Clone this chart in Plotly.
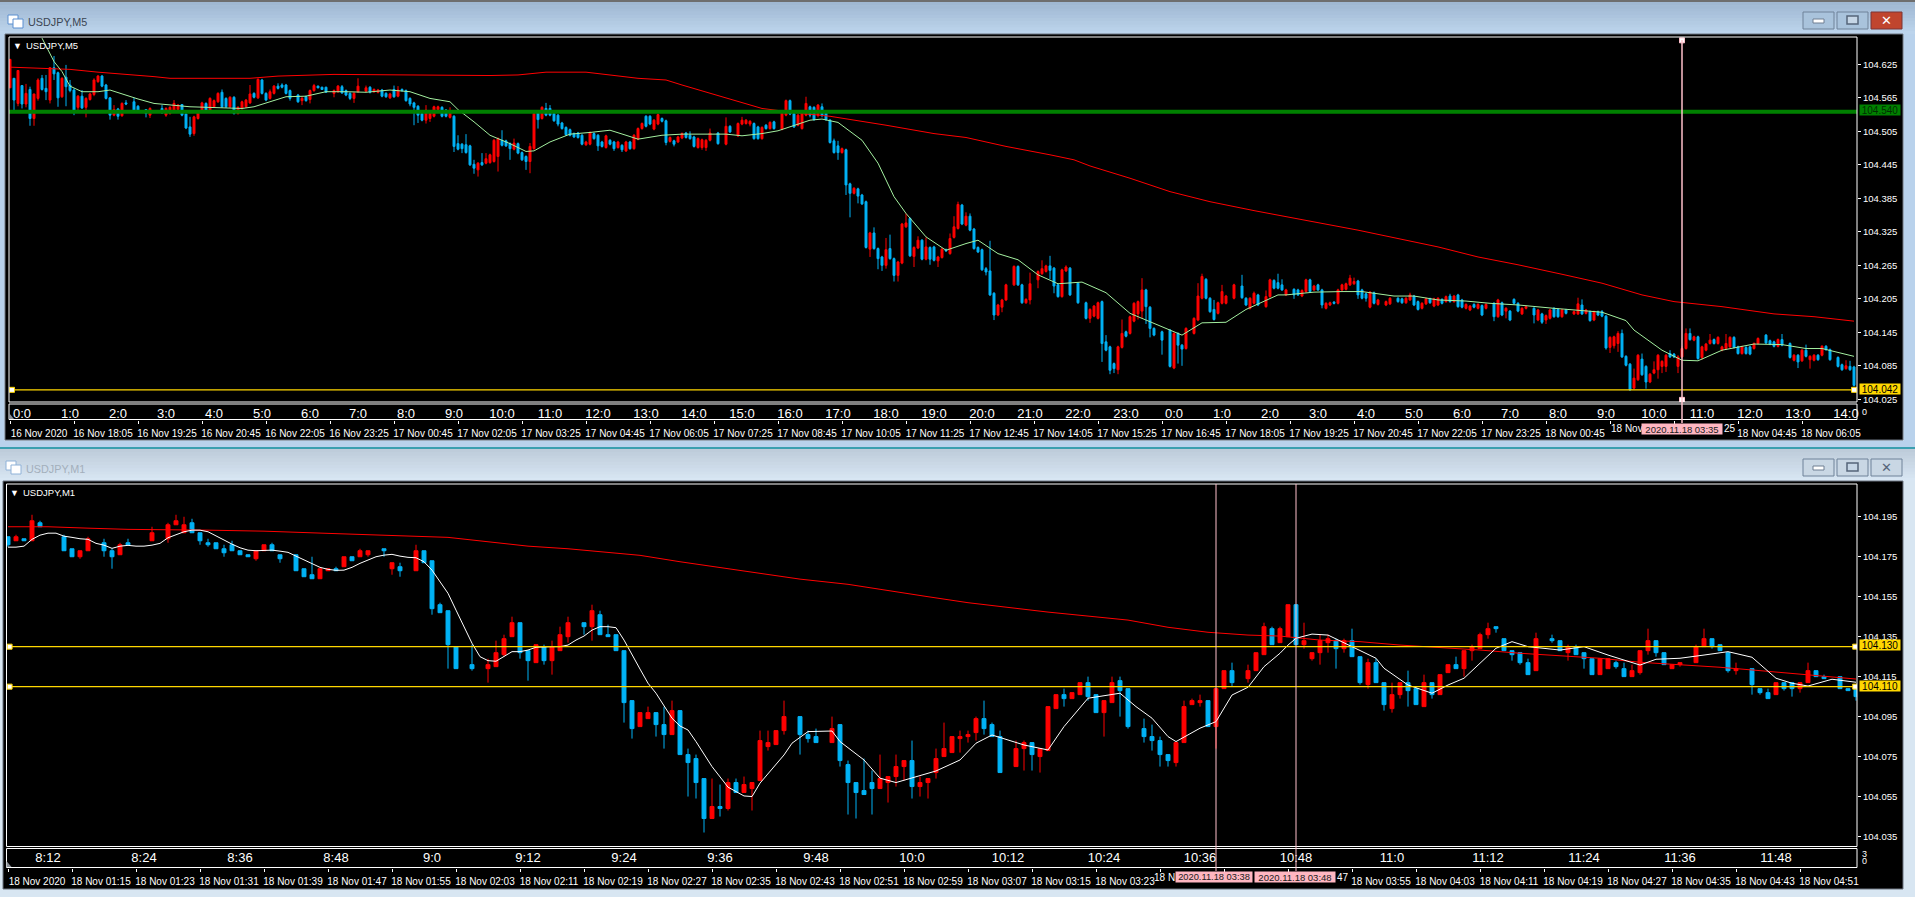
import plotly.graph_objects as go

N = None
# ---------- M5 chart: prices are 104 + value / 1000 ----------
M5_OPEN = [
583,600,555,587,554,580,528,564,600,582,
561,619,610,567,602,588,579,548,568,548,
562,571,594,604,588,565,534,545,533,556,
N,558,550,N,544,534,N,N,546,534,
537,543,544,553,536,513,501,528,540,555,
540,549,558,575,564,549,566,537,546,549,
556,573,565,597,573,564,573,586,588,588,
578,N,570,560,567,562,578,586,584,584,
N,573,576,585,578,573,564,576,N,577,
584,576,575,579,573,565,580,568,580,578,
564,556,550,537,525,528,532,544,548,543,
530,532,483,482,481,479,446,436,449,448,
449,451,460,489,488,483,473,483,467,460,
451,474,538,528,546,546,537,534,520,512,
508,501,502,498,481,482,501,498,486,476,
489,486,476,480,470,486,474,491,510,532,
532,509,518,528,524,487,488,486,493,502,
498,495,476,476,476,489,N,502,N,482,
514,N,497,518,519,518,519,513,492,516,
510,522,N,509,534,560,537,516,510,534,
549,548,534,549,540,525,488,479,467,472,
411,394,402,391,379,294,323,295,280,265,
295,277,247,269,334,349,281,296,310,276,
297,298,273,279,293,286,315,331,373,337,
353,330,297,293,259,255,215,176,190,203,
N,230,263,230,198,203,N,239,250,254,
264,260,230,209,255,260,N,233,N,198,
170,174,170,200,128,119,89,78,118,146,
143,165,178,183,221,190,152,N,146,N,
149,81,143,122,116,N,143,167,206,240,
206,186,179,197,197,N,206,N,228,206,
188,197,212,N,191,209,238,234,230,212,
N,222,221,210,218,239,221,230,221,188,
194,199,197,221,222,230,232,237,221,214,
190,216,195,N,194,196,N,206,205,198,
203,210,200,188,196,205,192,194,204,200,
210,200,212,203,188,185,195,188,193,188,
N,197,173,198,183,183,204,197,178,188,
N,188,167,178,167,170,188,186,173,185,
N,178,178,194,179,182,167,182,182,174,
118,121,125,143,102,88,45,60,97,84,
56,72,78,84,84,107,106,84,101,116,
143,131,137,100,113,125,132,125,113,116,
119,136,119,107,118,119,116,125,N,140,
130,128,120,132,N,125,95,104,94,113,
96,95,104,104,120,114,N,100,87,80,
84,83]
M5_CLOSE = [
634,561,614,554,573,528,572,597,580,576,
619,608,565,600,585,578,542,568,547,564,
572,597,604,586,564,534,544,532,555,554,
N,541,540,N,537,546,N,N,538,546,
548,555,552,534,511,500,531,540,556,540,
564,560,573,549,549,566,537,548,558,561,
572,566,598,573,561,576,586,582,584,573,
564,N,558,564,560,578,587,583,580,575,
N,578,586,574,570,564,573,586,N,583,
575,580,579,568,567,572,567,579,578,560,
554,548,534,525,543,540,549,549,532,532,
540,478,473,474,467,445,439,448,445,456,
463,489,492,480,479,474,484,466,454,451,
478,537,526,548,534,534,524,518,510,499,
498,495,494,482,486,503,492,479,478,497,
482,474,486,472,486,474,498,510,519,514,
518,525,535,523,485,494,482,495,501,494,
492,478,492,490,489,502,N,483,N,514,
504,N,519,525,525,523,492,492,512,510,
521,510,N,540,560,536,513,534,537,555,
534,526,552,534,526,485,467,467,474,409,
394,403,389,375,297,323,295,277,265,293,
277,247,271,339,341,282,297,310,276,298,
276,274,280,294,291,313,334,374,339,353,
328,295,289,257,253,212,176,194,203,230,
N,263,230,198,204,232,N,254,259,264,
256,228,209,257,262,212,N,198,N,170,
186,192,198,125,113,77,80,119,143,138,
173,197,200,221,191,152,140,N,131,N,
84,143,122,115,152,N,170,210,245,206,
182,168,198,218,210,N,230,N,207,194,
206,215,194,N,209,239,224,224,221,221,
N,212,212,220,239,218,228,221,194,197,
198,197,221,230,232,242,236,212,206,206,
217,197,203,N,200,206,N,200,198,206,
212,194,186,197,205,198,205,206,197,209,
200,210,191,190,195,192,190,195,176,195,
N,173,203,176,188,167,197,183,188,191,
N,176,185,163,175,185,173,173,185,179,
N,182,196,178,185,166,182,176,174,117,
136,137,143,101,86,42,63,104,69,56,
70,78,104,93,104,101,101,101,116,143,
132,137,98,119,124,131,125,136,119,125,
136,118,107,119,107,106,125,134,N,126,
124,120,132,122,N,100,104,92,113,102,
102,104,96,120,114,96,N,84,78,85,
78,50]
M5_HIGH = [
634,600,614,587,590,585,572,600,606,606,
619,640,612,602,624,597,582,570,579,566,
574,600,606,606,590,566,552,547,557,561,
N,565,552,N,545,548,N,N,552,548,
550,561,554,554,537,531,533,542,558,557,
566,562,575,580,566,568,568,550,560,563,
588,575,600,599,575,580,588,591,591,590,
580,N,572,568,569,580,590,587,585,585,
N,580,588,588,580,575,575,600,N,587,
586,582,581,581,575,574,587,586,582,580,
566,558,552,539,552,542,551,551,550,545,
548,534,498,484,500,481,454,450,466,466,
465,491,494,507,490,485,492,485,469,462,
484,539,540,550,556,552,539,536,522,514,
510,503,504,500,488,505,503,500,488,499,
491,488,488,482,488,488,500,512,521,534,
534,527,537,530,526,496,490,497,503,504,
505,497,494,492,491,510,N,504,N,530,
516,N,521,531,527,525,521,515,514,518,
523,524,N,542,562,562,539,536,539,567,
551,550,554,555,542,527,492,488,476,474,
413,405,404,393,381,325,333,297,282,314,
320,279,273,341,358,351,299,317,312,315,
299,300,282,296,295,322,353,379,375,360,
358,332,299,295,262,309,217,196,205,232,
N,265,265,232,206,252,N,256,274,266,
282,262,232,259,265,262,N,235,N,200,
188,194,200,202,140,121,91,121,168,148,
175,199,202,242,223,192,154,N,148,N,
151,145,145,124,154,N,172,233,250,242,
208,203,200,230,212,N,232,N,248,208,
208,218,214,N,220,241,240,250,240,223,
N,224,223,222,241,241,230,232,223,199,
200,201,223,232,234,248,243,239,223,216,
219,218,205,N,202,208,N,208,207,208,
216,212,202,199,207,207,207,208,206,211,
214,212,214,205,197,194,197,197,195,197,
N,199,205,200,190,185,206,199,190,193,
N,190,187,180,177,187,190,188,187,187,
N,184,207,204,187,184,184,184,185,176,
138,139,147,150,104,90,80,106,107,86,
72,93,106,95,106,113,108,104,120,152,
152,139,139,121,126,142,134,138,121,142,
138,138,121,121,120,121,127,136,N,142,
132,130,134,142,N,127,106,106,115,123,
104,106,106,122,122,116,N,102,89,95,
94,85]
M5_LOW = [
583,538,550,546,548,515,515,560,578,561,
555,597,549,565,550,575,534,543,545,530,
560,568,592,584,562,526,532,526,531,552,
N,539,538,N,530,529,N,N,537,531,
535,541,542,532,509,495,497,526,538,538,
538,547,556,547,547,547,535,535,544,547,
554,564,563,571,559,562,571,580,582,571,
560,N,556,552,558,555,576,582,579,574,
N,566,574,572,568,561,556,574,N,575,
573,574,573,566,565,563,565,566,576,558,
550,516,520,523,519,522,530,542,530,530,
528,468,471,466,465,443,429,424,443,446,
447,449,433,478,477,454,471,464,452,436,
430,472,510,526,532,532,522,514,508,497,
496,493,492,480,479,480,490,470,476,474,
480,470,474,468,468,472,472,489,508,512,
516,507,516,521,480,485,478,484,491,492,
490,476,474,472,470,487,N,481,N,480,
502,N,495,516,517,514,490,490,490,508,
508,508,N,507,532,534,511,514,508,532,
530,524,530,530,524,483,465,454,465,391,
351,392,376,373,295,280,293,258,255,259,
275,236,236,267,332,280,262,294,274,274,
266,272,262,277,289,284,313,329,337,335,
326,293,287,255,247,210,167,174,181,201,
N,228,228,196,196,195,N,224,248,252,
240,215,207,207,253,210,N,196,N,168,
162,172,168,92,111,70,72,70,116,136,
141,163,168,170,160,136,138,N,105,N,
82,79,89,85,114,N,141,165,204,204,
180,166,177,195,195,N,204,N,205,192,
186,195,192,N,189,207,222,222,219,210,
N,205,210,208,216,216,219,219,188,186,
192,195,195,219,220,228,230,205,204,200,
188,195,193,N,192,194,N,198,196,196,
201,192,184,186,194,196,190,192,195,198,
198,198,189,188,186,183,188,186,174,186,
N,165,171,174,170,165,195,181,176,186,
N,161,165,160,160,168,171,171,171,177,
N,176,176,176,177,164,165,174,172,114,
108,116,110,99,84,40,43,58,67,44,
54,70,62,72,74,99,99,72,99,114,
130,129,96,96,111,123,123,123,111,114,
117,116,105,105,105,104,114,123,N,124,
122,118,118,120,N,98,93,81,92,100,
80,93,94,102,112,94,N,82,76,78,
76,48]
M5_FAST_BAR = [8,11,13,15,18,22,25,28,32,36,41,45,58,61,65,69,74,79,84,89,95,100,105,110,112,116,120,125,129,131,135,140,145,150,154,157,
163,168,174,179,183,188,192,196,200,203,207,213,217,221,224,229,234,239,242,247,252,257,262,268,274,280,285,290,293,298,304,309,314,317,
319,326,333,338,346,351,357,364,370,377,386,392,398,404,406,413,418,422,428,436,443,449,453,461]
M5_FAST = [672,630,612,586,576,576,579,572,563,555,552,549,546,549,558,567,568,576,576,575,579,576,564,558,544,522,498,483,469,470,486,500,503,507,498,491,
498,500,500,500,497,501,506,516,525,527,521,489,448,388,358,316,292,304,310,286,275,248,232,235,216,179,164,149,140,162,163,186,203,212,
212,217,218,218,210,210,203,201,197,194,188,185,181,166,149,113,95,94,113,124,123,116,116,102]
M5_SLOW_BAR = [0,8,15,22,28,36,40,49,60,67,81,100,120,127,134,144,151,157,164,168,178,188,198,205,219,231,239,249,260,266,270,280,290,300,311,317,326,337,347,357,367,377,388,398,408,416,428,441,451,461]
M5_SLOW = [620,618,616,611,608,603,600,600,600,604,607,606,605,606,611,611,605,600,597,588,567,546,537,532,516,501,494,478,463,454,443,421,397,379,363,355,343,328,313,298,280,266,249,233,212,200,191,178,173,165]
M5_RESIST = 540
M5_SUPPORT = 42
M5_CURSOR_BAR = 418
M5_HOURS = ["0:0","1:0","2:0","3:0","4:0","5:0","6:0","7:0","8:0","9:0","10:0","11:0","12:0","13:0","14:0","15:0","16:0","17:0","18:0","19:0","20:0","21:0","22:0","23:0","0:0","1:0","2:0","3:0","4:0","5:0","6:0","7:0","8:0","9:0","10:0","11:0","12:0","13:0","14:0"]
M5_DATES = ["16 Nov 2020","16 Nov 18:05","16 Nov 19:25","16 Nov 20:45","16 Nov 22:05","16 Nov 23:25","17 Nov 00:45","17 Nov 02:05","17 Nov 03:25","17 Nov 04:45","17 Nov 06:05","17 Nov 07:25","17 Nov 08:45","17 Nov 10:05","17 Nov 11:25","17 Nov 12:45","17 Nov 14:05","17 Nov 15:25","17 Nov 16:45","17 Nov 18:05","17 Nov 19:25","17 Nov 20:45","17 Nov 22:05","17 Nov 23:25","18 Nov 00:45","","","18 Nov 04:45","18 Nov 06:05"]
M5_PRICE_TICKS = ["104.625","104.565","104.505","104.445","104.385","104.325","104.265","104.205","104.145","104.085","104.025"]

# ---------- M1 chart ----------
M1_OPEN = [
185,183,184,183,192,N,N,185,179,175,
178,N,182,178,176,182,N,N,183,N,
184,191,187,192,187,182,182,179,181,178,
176,174,178,181,176,N,176,169,166,164,
168,169,170,175,175,176,N,179,169,170,
N,168,178,173,151,148,130,N,121,N,
119,120,126,135,142,128,122,130,123,128,
135,N,142,140,146,136,136,128,103,90,
94,97,91,86,98,76,74,64,44,50,
49,62,57,59,63,80,81,88,N,95,
86,85,N,82,91,71,62,58,62,59,
62,65,70,73,60,62,67,75,77,84,
85,87,94,91,85,N,70,79,82,75,
78,99,106,104,106,112,106,97,102,113,
109,N,89,85,83,76,72,82,101,102,
103,90,109,118,N,114,118,126,139,132,
135,151,131,124,127,132,133,129,133,125,
111,122,112,99,106,112,109,100,112,106,
117,121,119,128,129,136,140,134,128,127,
122,118,N,134,133,127,130,127,124,116,
119,122,119,115,117,128,133,127,119,121,
N,122,130,134,131,127,118,N,119,109,
107,106,112,112,109,112,118,115,N,115,
109,110]
M1_CLOSE = [
181,185,183,193,190,N,N,178,175,178,
184,N,178,175,181,181,N,N,187,N,
191,193,191,187,183,181,179,177,178,176,
175,178,181,178,174,N,168,165,164,169,
169,168,175,173,178,178,N,178,172,168,
N,178,172,149,147,131,119,N,119,N,
121,127,134,142,127,123,131,123,130,136,
142,N,140,148,136,135,128,102,89,97,
97,91,86,98,76,72,62,44,50,49,
62,57,61,62,83,82,88,95,N,86,
84,82,N,89,73,62,57,56,59,64,
65,70,73,60,62,64,74,79,85,85,
86,94,89,85,67,N,79,82,76,79,
100,106,104,107,112,105,97,103,112,108,
90,N,85,83,76,73,82,100,103,103,
90,109,118,112,N,118,127,140,131,139,
151,131,133,127,133,134,129,133,125,112,
122,112,101,106,112,108,101,112,106,116,
121,119,128,130,136,139,139,128,126,122,
116,134,N,133,128,130,126,124,116,124,
124,120,115,118,128,133,127,121,121,122,
N,130,134,130,128,118,119,N,111,107,
104,112,109,109,112,118,115,114,N,109,
108,105]
M1_HIGH = [
185,186,184,196,193,N,N,186,179,178,
185,N,184,179,182,184,N,N,190,N,
192,196,195,194,187,184,182,181,183,178,
176,178,181,182,176,N,176,169,175,169,
169,170,175,175,179,178,N,179,172,172,
N,181,178,173,152,148,130,N,131,N,
124,133,136,145,142,128,131,131,133,140,
145,N,142,151,148,141,136,128,103,97,
100,97,100,103,98,79,76,64,64,61,
64,64,65,62,88,88,88,103,N,95,
88,89,N,95,91,73,62,74,68,76,
65,76,73,83,65,64,79,92,85,88,
88,95,103,92,88,N,83,83,82,79,
100,106,109,107,112,115,106,103,115,115,
109,N,94,91,85,76,82,103,104,106,
103,109,118,122,N,121,127,142,140,140,
151,151,142,127,136,136,134,134,139,125,
124,124,112,112,112,118,110,116,112,116,
121,125,128,131,137,142,140,134,128,127,
124,137,N,136,133,131,131,127,124,124,
124,123,122,121,128,139,133,127,121,122,
N,131,139,134,131,127,122,N,119,109,
109,112,112,112,112,122,118,116,N,115,
109,110]
M1_LOW = [
180,183,183,183,190,N,N,178,175,174,
178,N,175,169,176,181,N,N,183,N,
182,191,187,187,181,180,179,175,178,176,
175,173,178,178,172,N,168,165,164,164,
168,168,170,173,175,175,N,175,166,165,
N,168,172,146,147,119,119,N,118,N,
112,120,125,135,124,113,122,121,116,128,
132,N,136,133,136,135,128,92,84,90,
94,85,79,86,76,55,54,37,44,45,
48,57,57,48,63,78,81,86,N,76,
82,82,N,82,70,46,44,56,46,59,
52,60,63,54,55,54,64,75,77,77,
82,83,86,85,67,N,70,68,68,67,
78,99,100,104,106,103,97,85,102,95,
89,N,82,78,70,70,70,82,101,100,
90,79,109,110,N,112,118,126,131,132,
135,131,129,123,121,127,119,127,125,111,
109,112,98,97,104,100,101,100,104,106,
117,119,115,123,129,134,137,128,123,121,
116,118,N,132,128,123,126,119,116,116,
119,119,115,115,116,126,125,121,119,120,
N,122,130,129,128,117,116,N,106,106,
104,106,108,105,107,112,115,114,N,109,
108,103]
M1_FAST_BAR = list(range(0, 81)) + [81,83,84,85,86,88,90,92,93,94,97,98,100,103,104,107,109,111,113,116,119,121,123,125,127,130,132,135,139,141,143,145,146,149,151,153,155,157,159,160,161,163,165,168,171,172,175,178,180,182,184,186,188,190,194,197,200,204,206,209,212,215,218,221,223,225,228,231]
M1_FAST = [179.8,179.8,180.3,183.7,185.8,186.8,186.8,185.3,184.7,184,183.7,181.7,180.8,179.2,180.3,180.7,180.3,180.3,180.8,181.7,184.5,186.2,187.5,188.3,188.3,187.5,185.3,183.3,181.3,179.5,178.3,178,178.3,178.3,177.8,177.2,175.3,173.3,171.3,169.7,168.7,168.2,168.3,169.7,171.7,173.3,175,175.8,176.2,175.3,174.7,174.5,172.5,168.3,162.5,156.7,148.3,140,131.7,125,123,122.7,125,127.5,127.5,128.3,129.7,130,130,130,130.8,133.3,135.3,138.3,140,140,139.5,133.3,125.8,118.8,111.7,
106.7,94.2,90.3,88.3,82.5,70,59.7,55.3,55,61.7,75.8,81.7,87.5,87.8,82.5,73.3,64.2,62,64.2,67.8,73.3,81.7,85.8,83.3,80.8,78.3,90,104.2,106.7,100,94.2,85,82.5,89.2,92.5,105.8,109.7,120,126.7,130.8,134.2,136.3,135.8,130,124.2,119.2,110.8,106.7,110.8,114.2,121.7,129.2,132.5,130,128.3,130,125.8,120.8,123.7,124.2,125.8,127.5,124.7,114.2,111.7,110.3,113.7,112.2]
M1_SLOW_BAR = [0,5,10,15,25,32,40,50,55,60,65,70,79,84,89,94,99,105,110,115,120,125,130,135,140,145,150,155,159,164,169,174,179,184,189,194,199,204,209,214,219,224,231]
M1_SLOW = [190,190,189.3,188.7,188.3,187.8,186.7,185.5,184.7,182.5,180.3,179,175.7,172.5,169.7,166.7,163.8,161.2,158,155,152,149.5,147.3,145.3,143.3,139.7,137.2,135.8,135.3,133.3,132.5,130.8,129.7,128.3,126.7,125.3,124.2,122.2,121,119.7,118,116.3,113.8]
M1_UPPER = 130
M1_LOWER = 110
M1_CURSOR_BARS = [151, 161]
M1_HOURS = ["8:12","8:24","8:36","8:48","9:0","9:12","9:24","9:36","9:48","10:0","10:12","10:24","10:36","10:48","11:0","11:12","11:24","11:36","11:48"]
M1_DATES = ["18 Nov 2020","18 Nov 01:15","18 Nov 01:23","18 Nov 01:31","18 Nov 01:39","18 Nov 01:47","18 Nov 01:55","18 Nov 02:03","18 Nov 02:11","18 Nov 02:19","18 Nov 02:27","18 Nov 02:35","18 Nov 02:43","18 Nov 02:51","18 Nov 02:59","18 Nov 03:07","18 Nov 03:15","18 Nov 03:23","","","","18 Nov 03:55","18 Nov 04:03","18 Nov 04:11","18 Nov 04:19","18 Nov 04:27","18 Nov 04:35","18 Nov 04:43","18 Nov 04:51"]
M1_PRICE_TICKS = ["104.195","104.175","104.155","104.135","104.115","104.095","104.075","104.055","104.035"]

# ---------- helpers ----------
W, H = 1915, 897
FONT = "Liberation Sans"
RED, BLUE = "#ff0000", "#00b2f5"
PINK, GOLD = "#ffc0cb", "#ffd700"
def X(px): return px / W
def Y(py): return 1 - py / H
def price(seq): return [None if v is None else 104 + v / 1000 for v in seq]

fig = go.Figure()

def candles(o, h, l, c, xa, ya):
    fig.add_trace(go.Candlestick(
        x=list(range(len(o))), open=price(o), high=price(h), low=price(l), close=price(c),
        xaxis=xa, yaxis=ya, hoverinfo="skip", showlegend=False, whiskerwidth=0,
        increasing=dict(line=dict(color=RED, width=1), fillcolor=RED),
        decreasing=dict(line=dict(color=BLUE, width=1), fillcolor=BLUE)))

def line(xs, ys, color, width, xa, ya):
    fig.add_trace(go.Scatter(x=xs, y=price(ys), mode="lines", line=dict(color=color, width=width),
                             xaxis=xa, yaxis=ya, hoverinfo="skip", showlegend=False))

def handles(xs, ys, color, xa, ya):
    fig.add_trace(go.Scatter(x=xs, y=price(ys), mode="markers", xaxis=xa, yaxis=ya, hoverinfo="skip", showlegend=False,
                             marker=dict(symbol="square", size=5, color="white", line=dict(color=color, width=1))))

# M5 marks
candles(M5_OPEN, M5_HIGH, M5_LOW, M5_CLOSE, "x", "y")
line(M5_SLOW_BAR, M5_SLOW, RED, 1, "x", "y")
line(M5_FAST_BAR, M5_FAST, "#a4f0a0", 1, "x", "y")
line([-0.25, 461.75], [M5_RESIST, M5_RESIST], "#008000", 4, "x", "y")
line([0.5, 461], [M5_SUPPORT, M5_SUPPORT], GOLD, 1.2, "x", "y")
handles([0.5, 461], [M5_SUPPORT, M5_SUPPORT], GOLD, "x", "y")
handles([M5_CURSOR_BAR, M5_CURSOR_BAR], [668, 24], PINK, "x", "y")
# M1 marks
candles(M1_OPEN, M1_HIGH, M1_LOW, M1_CLOSE, "x2", "y2")
line(M1_SLOW_BAR, M1_SLOW, RED, 1, "x2", "y2")
line(M1_FAST_BAR, M1_FAST, "white", 1, "x2", "y2")
for lvl in (M1_UPPER, M1_LOWER):
    line([0.2, 230.9], [lvl, lvl], GOLD, 1.2, "x2", "y2")
    handles([0.2, 230.9], [lvl, lvl], GOLD, "x2", "y2")
# anchors for the hour-row axes
for xa, ya in (("x3", "y"), ("x4", "y2")):
    fig.add_trace(go.Scatter(x=[0], y=[104.1], mode="markers", marker=dict(opacity=0), xaxis=xa, yaxis=ya,
                             hoverinfo="skip", showlegend=False))

# ---------- window chrome ----------
shapes = []
def rect(x0, y0, x1, y1, fill=None, stroke=None, w=1, layer="below"):
    shapes.append(dict(type="rect", xref="paper", yref="paper", x0=X(x0), x1=X(x1), y0=Y(y0), y1=Y(y1),
                       fillcolor=fill if fill else "rgba(0,0,0,0)",
                       line=dict(color=stroke if stroke else "rgba(0,0,0,0)", width=w if stroke else 0), layer=layer))
def mix(a, b, t):
    return "rgb(%d,%d,%d)" % tuple(round(a[i] + (b[i] - a[i]) * t) for i in range(3))
def gradient(x0, y0, x1, y1, top, bottom, n=10):
    for k in range(n):
        rect(x0, y0 + (y1 - y0) * k / n, x1, y0 + (y1 - y0) * (k + 1) / n + 0.5, mix(top, bottom, k / (n - 1)))
def corner(px, py):
    shapes.append(dict(type="path", xref="paper", yref="paper", layer="above", fillcolor="#8a8f96", line=dict(width=0),
                       path="M %f,%f L %f,%f L %f,%f Z" % (X(px), Y(py - 6), X(px + 5), Y(py), X(px), Y(py))))

rect(0, 0, W, H, "#c4d8ea")
rect(0, 0, W, 2, "#6e6e6e")
gradient(0, 2, W, 34, (160, 184, 210), (188, 212, 236))
rect(0, 34, 4, 445, "#b9d2ec"); rect(1904, 34, W, 445, "#b9d2ec")
rect(0, 441, W, 447, "#b9d2ec"); rect(0, 447, W, 449, "#3a9fb0")
gradient(0, 449, W, 481, (190, 204, 218), (216, 230, 243))
rect(0, 481, W, H, "#d8e6f2")
# black client areas
rect(5, 34, 1903, 440, "black", "#6d7480", 1)
rect(3, 481, 1903, 889, "black", "#6d7480", 1)
# white frames of plot and time rows
rect(9, 37, 1857, 402, None, "white", 1, "above")
rect(9, 404, 1857, 419.5, None, "white", 1, "above")
rect(6.5, 484, 1857, 846.5, None, "white", 1, "above")
rect(6.5, 848.5, 1857, 867.5, None, "white", 1, "above")
corner(9, 419); corner(6.5, 867)
# title bar icons
for ox, oy, c in ((8, 15, "#5b8fd0"), (6, 461, "#8fb2d8")):
    rect(ox, oy, ox + 10, oy + 9, "white", c, 1)
    rect(ox + 5, oy + 4, ox + 15, oy + 13, "white", c, 1)
# title bar buttons
for top, bot, active in ((12, 29, True), (459, 476, False)):
    for bx in (1803, 1837):
        rect(bx, top, bx + 31, bot, "#a9c3dc" if active else "#c9d7e4", "#6f8299", 1)
    rect(1871, top, 1902, bot, "#c0452e" if active else "#c9d7e4", "#7a3434" if active else "#6f8299", 1)
    rect(1813, top + 7, 1824, top + 11, "white", "#6f7f92", 1)
    rect(1847, top + 4, 1858, top + 12, "#c6d6e6", "#56657a", 1.5)
# cursor lines through the time rows
shapes.append(dict(type="line", xref="x", yref="paper", x0=M5_CURSOR_BAR, x1=M5_CURSOR_BAR, y0=Y(40), y1=Y(423),
                   line=dict(color=PINK, width=1.5), layer="above"))
for b in M1_CURSOR_BARS:
    shapes.append(dict(type="line", xref="x2", yref="paper", x0=b, x1=b, y0=Y(484), y1=Y(871),
                       line=dict(color=PINK, width=1), layer="above"))

# ---------- text ----------
ann = []
def text(px, py, s, size=10, color="white", anchor="left", bg=None, **kw):
    d = dict(xref="paper", yref="paper", x=X(px), y=Y(py), text=s, showarrow=False, xanchor=anchor, yanchor="middle",
             font=dict(family=FONT, size=size, color=color), borderpad=0)
    if bg:
        d["bgcolor"] = bg
    d.update(kw)
    ann.append(d)

text(27, 21.5, "USDJPY,M5", 10.8, "#3b4552")
text(24.5, 468.5, "USDJPY,M1", 10.8, "#a3afbb")
text(12, 45.5, "▼", 9); text(25, 45.5, "USDJPY,M5", 9.5)
text(9, 492.5, "▼", 9); text(22, 492.5, "USDJPY,M1", 9.5)
text(1886.5, 20.5, "✕", 13, "white", "center")
text(1886.5, 467.5, "✕", 13, "#56657a", "center")
text(1879.5, 110.5, "104.540", 10, "#002f00", "center", "#008000", width=40, height=10)
text(1879.5, 388.5, "104.042", 10, "black", "center", GOLD, width=40, height=10)
text(1879.5, 644.5, "104.130", 10, "black", "center", GOLD, width=40, height=10)
text(1879.5, 685.5, "104.110", 10, "black", "center", GOLD, width=40, height=10)
text(1610, 428.5, "18 Nov", 10)
text(1682.4, 428.5, "2020.11.18 03:35", 9.5, "#202020", "center", "#ffb6c1", width=80, height=10)
text(1723, 428.5, "25", 10)
text(1153, 877, "18 N", 10)
text(1214, 877, "2020.11.18 03:38", 9.3, "#202020", "center", "#ffb6c1", width=76, height=10)
text(1295, 877, "2020.11.18 03:48", 9.5, "#202020", "center", "#ffb6c1", width=80, height=10)
text(1335.5, 877, "47", 10)
text(1861, 412, "0", 9)
text(1861, 853.5, "3", 9); text(1861, 860.5, "0", 9)

def date_axis(tickvals, ticktext, rng, left, py):
    return dict(domain=[X(left), X(1857)], range=rng, anchor="free", position=Y(py), rangeslider=dict(visible=False),
                automargin=False, showgrid=False, zeroline=False, showline=False, ticks="outside", ticklen=3, tickcolor="white",
                tickvals=tickvals, ticktext=ticktext, tickangle=0, ticklabelshift=29, ticklabelstandoff=1,
                tickfont=dict(family=FONT, size=10, color="white"))
def hour_axis(over, tickvals, ticktext, rng, left, py):
    return dict(domain=[X(left), X(1857)], range=rng, overlaying=over, anchor="free", position=Y(py), automargin=False,
                showgrid=False, zeroline=False, showline=False, ticks="", tickvals=tickvals, ticktext=ticktext, tickangle=0,
                tickfont=dict(family=FONT, size=13, color="white"))
def price_axis(labels, rng, top, bottom):
    return dict(domain=[Y(bottom), Y(top)], range=rng, side="right", anchor="free", position=X(1857), showgrid=False,
                automargin=False, zeroline=False, showline=False, ticks="outside", ticklen=3, tickcolor="white",
                tickvals=[float(v) for v in labels], ticktext=labels, fixedrange=True,
                tickfont=dict(family=FONT, size=9.5, color="white"))

M5_RANGE = [-0.25, 461.75]
M1_RANGE = [-0.1875, 231.125]
fig.update_layout(
    template="none",
    width=W, height=H, margin=dict(l=0, r=0, t=0, b=0, pad=0), autosize=False,
    paper_bgcolor="#c4d8ea", plot_bgcolor="black", showlegend=False, boxgap=0.3, hovermode=False,
    xaxis=date_axis([16 * k for k in range(len(M5_DATES))], M5_DATES, M5_RANGE, 9, 419.5),
    xaxis2=date_axis([8 * k for k in range(len(M1_DATES))], M1_DATES, M1_RANGE, 6.5, 867.5),
    xaxis3=hour_axis("x", [3 + 12 * k for k in range(len(M5_HOURS))], M5_HOURS, M5_RANGE, 9, 403.5),
    xaxis4=hour_axis("x2", [5 + 12 * k for k in range(len(M1_HOURS))], M1_HOURS, M1_RANGE, 6.5, 848),
    yaxis=price_axis(M5_PRICE_TICKS, [104.0202, 104.674], 37, 402),
    yaxis2=price_axis(M1_PRICE_TICKS, [104.030, 104.2114], 484, 846.5),
    shapes=shapes, annotations=ann,
)
fig.write_html("out.html", config=dict(displayModeBar=False),
               post_script="document.body.style.margin='0';document.body.style.overflow='hidden';")
